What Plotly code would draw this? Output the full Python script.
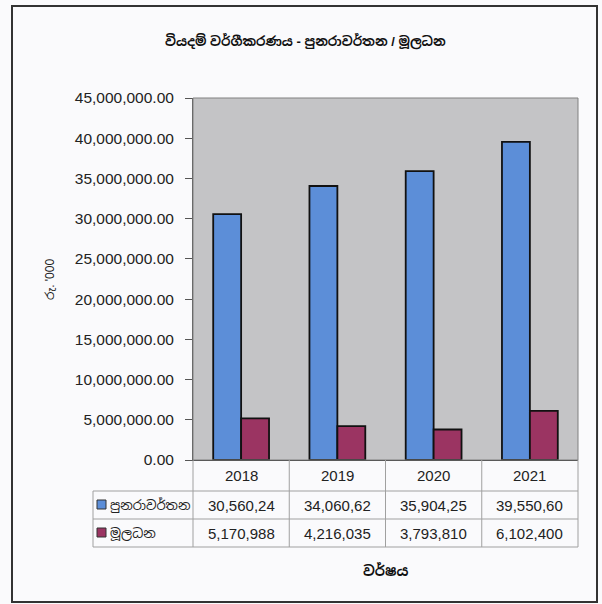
import plotly.graph_objects as go

# chart data
years = ["2018", "2019", "2020", "2021"]
recurrent = [30560240, 34060620, 35904250, 39550600]
capital = [5170988, 4216035, 3793810, 6102400]
recurrent_text = ["30,560,24", "34,060,62", "35,904,25", "39,550,60"]
capital_text = ["5,170,988", "4,216,035", "3,793,810", "6,102,400"]
series_names = ["පුනරාවර්තන", "මූලධන"]
series_colors = ["#5c8ed8", "#9b3462"]

title = "වියදම් වර්ගීකරණය - පුනරාවර්තන / මූලධන"
y_title = "රු. '000"
x_title = "වර්ෂය"

W, H = 602, 604
L, R, T, B = 193, 578, 98, 460  # plot area in pixels
FONT = "Liberation Sans, Arial, Noto Sans Sinhala, sans-serif"


def px(x):
    return (x - L) / (R - L)


def py(y):
    return (B - y) / (B - T)


fig = go.Figure()
for name, vals, col in zip(series_names, [recurrent, capital], series_colors):
    fig.add_trace(go.Bar(
        x=years, y=vals, name=name,
        marker=dict(color=col, line=dict(color="#111111", width=1.8)),
    ))

shapes = []
annotations = []

# outer frame
shapes.append(dict(type="rect", xref="paper", yref="paper",
                   x0=px(12), x1=px(597), y0=py(602), y1=py(6),
                   line=dict(color="#333333", width=2)))
# plot area border
shapes.append(dict(type="rect", xref="paper", yref="paper",
                   x0=0, x1=1, y0=0, y1=1,
                   line=dict(color="#808080", width=1)))

# data table grid
row_lines = [491, 519, 547]
grid = dict(color="#a0a0a0", width=1)
for yl in row_lines:
    shapes.append(dict(type="line", xref="paper", yref="paper",
                       x0=px(93), x1=1, y0=py(yl), y1=py(yl), line=grid))
shapes.append(dict(type="line", xref="paper", yref="paper",
                   x0=px(93), x1=px(93), y0=py(491), y1=py(547), line=grid))
n = len(years)
for i in range(n + 1):
    shapes.append(dict(type="line", xref="paper", yref="paper",
                       x0=i / n, x1=i / n, y0=0, y1=py(547), line=grid))

cell_font = dict(family=FONT, size=15, color="#222222")
for i, yr in enumerate(years):
    for txt, yc in [(yr, 476), (recurrent_text[i], 505), (capital_text[i], 533)]:
        annotations.append(dict(x=i, y=py(yc), xref="x", yref="paper", text=txt,
                                xanchor="center", yanchor="middle",
                                showarrow=False, font=cell_font))

# legend keys in the table
for name, col, yc in zip(series_names, series_colors, [505, 533]):
    shapes.append(dict(type="rect", xref="paper", yref="paper",
                       x0=px(97), x1=px(106), y0=py(yc + 4), y1=py(yc - 5),
                       fillcolor=col, line=dict(color="#333333", width=1)))
    annotations.append(dict(x=px(108), y=py(yc), xref="paper", yref="paper", text=name,
                            xanchor="left", yanchor="middle", showarrow=False,
                            font=dict(family=FONT, size=13, color="#222222")))

annotations.append(dict(x=px(305), y=py(42), xref="paper", yref="paper",
                        text="<b>" + title + "</b>", showarrow=False,
                        xanchor="center", yanchor="middle",
                        font=dict(family=FONT, size=13, color="#111111")))
annotations.append(dict(x=px(50), y=py(280), xref="paper", yref="paper",
                        text=y_title, textangle=-90, showarrow=False,
                        xanchor="center", yanchor="middle",
                        font=dict(family=FONT, size=12, color="#222222")))
annotations.append(dict(x=px(385), y=py(570), xref="paper", yref="paper",
                        text="<b>" + x_title + "</b>", showarrow=False,
                        xanchor="center", yanchor="middle",
                        font=dict(family=FONT, size=14, color="#111111")))

fig.update_layout(
    width=W, height=H,
    margin=dict(l=L, r=W - R, t=T, b=H - B),
    paper_bgcolor="#fafafc",
    plot_bgcolor="#c4c4c6",
    barmode="group", bargap=0.42, bargroupgap=0,
    showlegend=False,
    font=dict(family=FONT, size=14, color="#222222"),
    shapes=shapes,
    annotations=annotations,
)
fig.update_xaxes(type="category", range=[-0.5, n - 0.5], showticklabels=False,
                 showgrid=False, zeroline=False,
                 showline=True, linecolor="#333333", linewidth=1)
fig.update_yaxes(range=[0, 45000000], dtick=5000000, tickformat=",.2f",
                 showgrid=False, zeroline=False, showline=True,
                 linecolor="#555555", linewidth=1,
                 ticks="outside", ticklen=7, tickcolor="#555555",
                 ticklabelstandoff=8, tickfont=dict(size=15.5, color="#222222"))

fig.write_html("out.html", config={"displayModeBar": False},
               post_script="document.body.style.margin='0';")
